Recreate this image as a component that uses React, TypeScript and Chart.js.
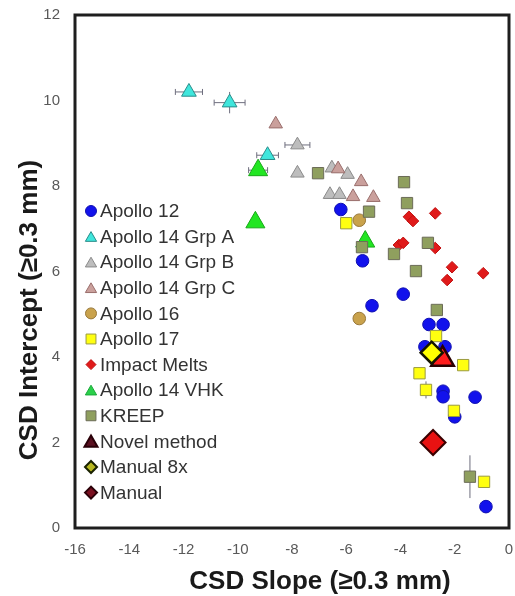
import React, { useEffect, useRef } from 'react';
import { Chart, registerables } from 'chart.js';

Chart.register(...registerables);

type P = { x: number; y: number; xe?: number; ye?: number };

// ---------- data ----------
const apollo12: P[] = [
  { x: -6.2, y: 7.45 }, { x: -5.4, y: 6.25 }, { x: -3.9, y: 5.47 }, { x: -5.05, y: 5.2 },
  { x: -2.95, y: 4.76 }, { x: -2.43, y: 4.76 }, { x: -3.1, y: 4.24 }, { x: -2.36, y: 4.24 },
  { x: -2.43, y: 3.2 }, { x: -2.43, y: 3.07 }, { x: -1.25, y: 3.06 }, { x: -2.0, y: 2.6 },
  { x: -0.85, y: 0.5, ye: 0.15 },
];
const apollo14A: P[] = [
  { x: -11.8, y: 10.2, xe: 0.5 }, { x: -10.3, y: 9.95, xe: 0.57, ye: 0.25 }, { x: -8.9, y: 8.72, xe: 0.4 },
];
const apollo14B: P[] = [
  { x: -7.8, y: 8.96, xe: 0.46 }, { x: -7.8, y: 8.3 }, { x: -6.53, y: 8.42 }, { x: -5.95, y: 8.27 },
  { x: -6.6, y: 7.8 }, { x: -6.25, y: 7.8 },
];
const apollo14C: P[] = [
  { x: -8.6, y: 9.45 }, { x: -6.3, y: 8.4 }, { x: -5.45, y: 8.1 }, { x: -5.75, y: 7.75 }, { x: -5.0, y: 7.73 },
];
const apollo16: P[] = [{ x: -5.52, y: 7.2 }, { x: -5.52, y: 4.9 }];
const apollo17: P[] = [
  { x: -6.0, y: 7.13 }, { x: -2.69, y: 4.49 }, { x: -1.69, y: 3.81 }, { x: -3.3, y: 3.62 },
  { x: -3.06, y: 3.23, ye: 0.2 }, { x: -2.03, y: 2.74 }, { x: -0.92, y: 1.08 },
];
const impactMelts: P[] = [
  { x: -3.69, y: 7.28 }, { x: -3.54, y: 7.18 }, { x: -2.72, y: 7.36 }, { x: -4.06, y: 6.62 },
  { x: -3.9, y: 6.67 }, { x: -2.72, y: 6.55 }, { x: -2.1, y: 6.1 }, { x: -2.28, y: 5.8 }, { x: -0.95, y: 5.96 },
];
const apollo14VHK: P[] = [{ x: -9.25, y: 8.37, xe: 0.35 }, { x: -9.35, y: 7.15 }, { x: -5.3, y: 6.7 }];
const kreep: P[] = [
  { x: -7.04, y: 8.3 }, { x: -3.87, y: 8.09 }, { x: -3.76, y: 7.6 }, { x: -5.16, y: 7.4 },
  { x: -5.42, y: 6.57 }, { x: -4.24, y: 6.41 }, { x: -2.99, y: 6.67 }, { x: -3.43, y: 6.01 },
  { x: -2.66, y: 5.1 }, { x: -1.44, y: 1.2, ye: 0.5 },
];
const novelMethod: P[] = [{ x: -2.45, y: 3.95 }];
const manual8x: P[] = [{ x: -2.85, y: 4.1 }];
const manual: P[] = [{ x: -2.8, y: 2.0 }];

const xMin = -16, xMax = 0, xStep = 2;
const yMin = 0, yMax = 12, yStep = 2;
const xTitle = 'CSD Slope (≥0.3 mm)';
const yTitle = 'CSD Intercept (≥0.3 mm)';

// ---------- styles ----------
type S = {
  label: string; data: P[]; shape: 'circle' | 'triangle' | 'rect' | 'rectRot';
  r: number; bg: string; bd: string; bw: number; lr: number; lbg: string; lbd: string;
};
const SERIES: S[] = [
  { label: 'Apollo 12', data: apollo12, shape: 'circle', r: 6.3, bg: '#1212ec', bd: '#1010b0', bw: 1, lr: 5.5, lbg: '#1212ec', lbd: '#1010b0' },
  { label: 'Apollo 14 Grp A', data: apollo14A, shape: 'triangle', r: 8.5, bg: '#3fe6dc', bd: '#2a8c8a', bw: 1, lr: 6.5, lbg: '#3fe6dc', lbd: '#2a8c8a' },
  { label: 'Apollo 14 Grp B', data: apollo14B, shape: 'triangle', r: 7.8, bg: '#bdbdbd', bd: '#8a8a8a', bw: 1, lr: 6.5, lbg: '#bdbdbd', lbd: '#8a8a8a' },
  { label: 'Apollo 14 Grp C', data: apollo14C, shape: 'triangle', r: 7.8, bg: '#caa09c', bd: '#9a6e6c', bw: 1, lr: 6.5, lbg: '#caa09c', lbd: '#9a6e6c' },
  { label: 'Apollo 16', data: apollo16, shape: 'circle', r: 6.3, bg: '#c9a24c', bd: '#98783a', bw: 1, lr: 5.5, lbg: '#c9a24c', lbd: '#98783a' },
  { label: 'Apollo 17', data: apollo17, shape: 'rect', r: 8, bg: '#ffff10', bd: '#9a9a40', bw: 1, lr: 7, lbg: '#ffff10', lbd: '#9a9a40' },
  { label: 'Impact Melts', data: impactMelts, shape: 'rectRot', r: 5.8, bg: '#e01a1a', bd: '#c01010', bw: 1, lr: 5, lbg: '#e01a1a', lbd: '#c01010' },
  { label: 'Apollo 14 VHK', data: apollo14VHK, shape: 'triangle', r: 11, bg: '#22e622', bd: '#18a818', bw: 1, lr: 6.5, lbg: '#2ad04a', lbd: '#18a838' },
  { label: 'KREEP', data: kreep, shape: 'rect', r: 8, bg: '#8f9f5e', bd: '#6c6c58', bw: 1, lr: 7, lbg: '#8f9f5e', lbd: '#6c6c58' },
  { label: 'Novel method', data: novelMethod, shape: 'triangle', r: 13, bg: '#ff1c1c', bd: '#2a0000', bw: 2.5, lr: 7.5, lbg: '#5a1020', lbd: '#2a0008' },
  { label: 'Manual 8x', data: manual8x, shape: 'rectRot', r: 11, bg: '#ffff00', bd: '#151500', bw: 2.5, lr: 6, lbg: '#b8b820', lbd: '#1a2200' },
  { label: 'Manual', data: manual, shape: 'rectRot', r: 12.5, bg: '#e81212', bd: '#3a0000', bw: 2, lr: 6, lbg: '#7a1020', lbd: '#2a0008' },
];

const FONT = "'Liberation Sans', Arial, Helvetica, sans-serif";

function drawShape(ctx: CanvasRenderingContext2D, shape: string, x: number, y: number, r: number) {
  ctx.beginPath();
  if (shape === 'circle') {
    ctx.arc(x, y, r, 0, Math.PI * 2);
  } else if (shape === 'triangle') {
    for (let i = 0; i < 3; i++) {
      const a = (i * 2 * Math.PI) / 3;
      const px = x + Math.sin(a) * r, py = y - Math.cos(a) * r;
      if (i === 0) ctx.moveTo(px, py); else ctx.lineTo(px, py);
    }
    ctx.closePath();
  } else if (shape === 'rect') {
    const s = r * Math.SQRT1_2;
    ctx.rect(x - s, y - s, 2 * s, 2 * s);
  } else {
    ctx.moveTo(x - r, y); ctx.lineTo(x, y - r); ctx.lineTo(x + r, y); ctx.lineTo(x, y + r);
    ctx.closePath();
  }
}

const customPlugin = {
  id: 'customDecor',
  beforeDatasetsDraw(chart: any) {
    const { ctx, scales } = chart;
    const xs = scales.x, ys = scales.y;
    ctx.save();
    ctx.strokeStyle = '#6e6e7e';
    ctx.lineWidth = 1;
    SERIES.forEach((s) => s.data.forEach((p) => {
      const px = xs.getPixelForValue(p.x), py = ys.getPixelForValue(p.y);
      if (p.xe) {
        const a = xs.getPixelForValue(p.x - p.xe), b = xs.getPixelForValue(p.x + p.xe);
        ctx.beginPath();
        ctx.moveTo(a, py); ctx.lineTo(b, py);
        ctx.moveTo(a, py - 3); ctx.lineTo(a, py + 3);
        ctx.moveTo(b, py - 3); ctx.lineTo(b, py + 3);
        ctx.stroke();
      }
      if (p.ye) {
        const a = ys.getPixelForValue(p.y - p.ye), b = ys.getPixelForValue(p.y + p.ye);
        ctx.beginPath();
        ctx.moveTo(px, a); ctx.lineTo(px, b);
        ctx.stroke();
      }
    }));
    ctx.restore();
  },
  afterDraw(chart: any) {
    const { ctx, chartArea } = chart;
    ctx.save();
    // frame
    ctx.strokeStyle = '#1e1e1e';
    ctx.lineWidth = 3;
    ctx.strokeRect(chartArea.left, chartArea.top, chartArea.right - chartArea.left, chartArea.bottom - chartArea.top);
    // legend
    const lx = chartArea.left + 16;
    const ly0 = chartArea.top + 196;
    const dy = 25.6;
    ctx.font = `19px ${FONT}`;
    ctx.textBaseline = 'middle';
    ctx.textAlign = 'left';
    SERIES.forEach((s, i) => {
      const y = ly0 + i * dy;
      ctx.fillStyle = s.lbg;
      ctx.strokeStyle = s.lbd;
      ctx.lineWidth = s.bw > 1.5 ? 2 : 1;
      drawShape(ctx, s.shape, lx, y + (s.shape === 'triangle' ? 1.5 : 0), s.lr);
      ctx.fill();
      ctx.stroke();
      ctx.fillStyle = '#333333';
      ctx.fillText(s.label, lx + 9, y + 1);
    });
    // axis titles
    ctx.fillStyle = '#1a1a1a';
    ctx.font = `bold 26px ${FONT}`;
    ctx.textAlign = 'center';
    ctx.textBaseline = 'middle';
    ctx.fillText(xTitle, chartArea.left + 245, chartArea.bottom + 54);
    ctx.translate(30, chartArea.top + 295);
    ctx.rotate(-Math.PI / 2);
    ctx.fillText(yTitle, 0, 0);
    ctx.restore();
  },
};

export default function App() {
  const ref = useRef<HTMLCanvasElement | null>(null);
  useEffect(() => {
    document.body.style.margin = '0';
    if (!ref.current) return;
    const n = SERIES.length;
    const chart = new Chart(ref.current, {
      type: 'scatter',
      data: {
        datasets: SERIES.map((s, i) => ({
          label: s.label,
          data: s.data,
          pointStyle: s.shape,
          pointRadius: s.r,
          pointHoverRadius: s.r,
          backgroundColor: s.bg,
          borderColor: s.bd,
          borderWidth: s.bw,
          order: n - i,
        })),
      },
      options: {
        responsive: false,
        animation: false,
        devicePixelRatio: 1,
        layout: { autoPadding: false, padding: { top: 15, right: 6, left: 0, bottom: 0 } },
        plugins: { legend: { display: false }, tooltip: { enabled: false } },
        scales: {
          x: {
            type: 'linear', min: xMin, max: xMax,
            ticks: { stepSize: xStep, color: '#595959', font: { size: 15, family: FONT }, padding: 13 },
            grid: { display: false, drawTicks: false },
            border: { display: false },
            afterFit: (s: any) => { s.height = 68; s.paddingLeft = 0; s.paddingRight = 0; },
          },
          y: {
            type: 'linear', min: yMin, max: yMax,
            ticks: { stepSize: yStep, color: '#595959', font: { size: 15, family: FONT }, padding: 15 },
            grid: { display: false, drawTicks: false },
            border: { display: false },
            afterFit: (s: any) => { s.width = 75; s.paddingTop = 0; s.paddingBottom = 0; },
          },
        },
      },
      plugins: [customPlugin],
    } as any);
    return () => chart.destroy();
  }, []);
  return (
    <div style={{ width: 515, height: 596 }}>
      <canvas ref={ref} width={515} height={596} style={{ display: 'block' }} />
    </div>
  );
}
